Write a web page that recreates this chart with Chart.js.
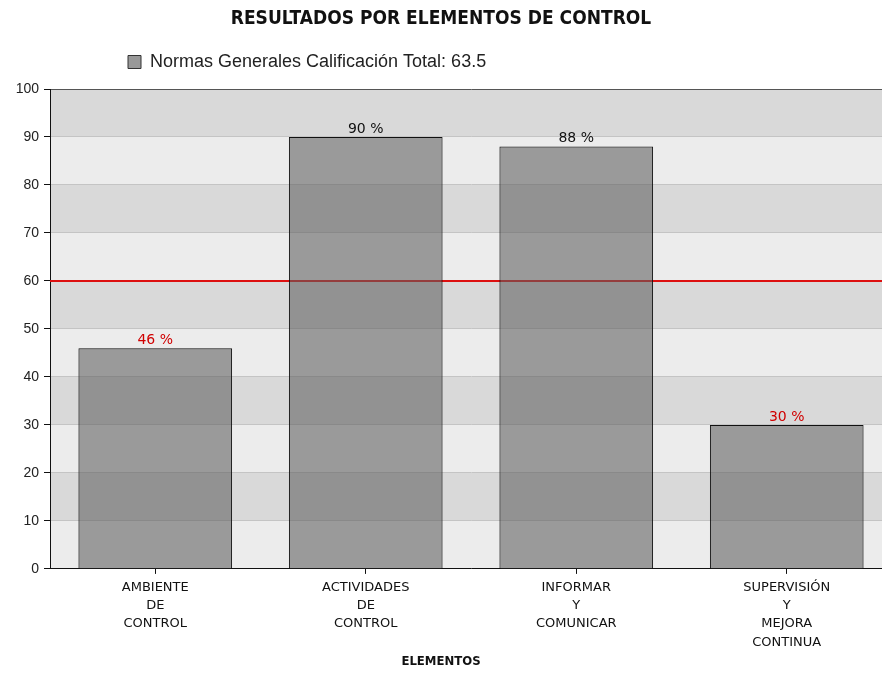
<!DOCTYPE html>
<html>
<head>
<meta charset="utf-8">
<script src="https://cdn.jsdelivr.net/npm/chart.js@4"></script>
<style>
  html, body { margin: 0; padding: 0; background: #fff; overflow: hidden; }
  #wrap { width: 892px; height: 677px; }
</style>
</head>
<body>
<div id="wrap"><canvas id="grafica" width="892" height="677"></canvas></div>
<script>
// datos de la grafica
const categorias = [
  ['AMBIENTE', 'DE', 'CONTROL'],
  ['ACTIVIDADES', 'DE', 'CONTROL'],
  ['INFORMAR', 'Y', 'COMUNICAR'],
  ['SUPERVISIÓN', 'Y', 'MEJORA', 'CONTINUA']
];
const valores = [46, 90, 88, 30];
const valorMeta = 60;
const nombreSerie = 'Normas Generales Calificación Total: 63.5';
const titulo = 'RESULTADOS POR ELEMENTOS DE CONTROL';
const tituloEje = 'ELEMENTOS';

const ANCHO_VISIBLE = 882; // la ventana corta el lado derecho del grafico

const fuenteNarrow = '"DejaVu Sans Condensed", "Liberation Sans", Arial, sans-serif';

const franjas = {
  id: 'franjas',
  // centrar titulos en la parte visible y mover la leyenda a la izquierda
  afterLayout(chart) {
    chart.boxes.forEach(b => {
      if (!b.axis && b !== chart.legend) {
        b.right = ANCHO_VISIBLE;
        b.width = ANCHO_VISIBLE - b.left;
      }
    });
    const lg = chart.legend;
    lg.left = 114;
    lg.top = 39;
  },
  // fondo blanco + franjas alternas
  beforeDraw(chart) {
    const ctx = chart.ctx;
    const a = chart.chartArea;
    const y = chart.scales.y;
    ctx.save();
    ctx.fillStyle = '#fff';
    ctx.fillRect(0, 0, chart.width, chart.height);
    for (let v = 0; v < 100; v += 10) {
      const top = y.getPixelForValue(v + 10);
      const bot = y.getPixelForValue(v);
      ctx.fillStyle = (v / 10) % 2 === 0 ? '#ececec' : '#d9d9d9';
      ctx.fillRect(a.left, top, a.right - a.left, bot - top);
    }
    ctx.restore();
  },
  // linea roja de la meta, debajo de las barras
  beforeDatasetsDraw(chart) {
    const ctx = chart.ctx;
    const a = chart.chartArea;
    const py = Math.round(chart.scales.y.getPixelForValue(valorMeta));
    ctx.save();
    ctx.fillStyle = '#dd1010';
    ctx.fillRect(a.left, py - 1, a.right - a.left, 2);
    ctx.restore();
  },
  // porcentaje encima de cada barra
  afterDatasetsDraw(chart) {
    const ctx = chart.ctx;
    const barras = chart.getDatasetMeta(0).data;
    ctx.save();
    ctx.font = '14px "DejaVu Sans", Verdana, sans-serif';
    ctx.textAlign = 'center';
    ctx.textBaseline = 'bottom';
    barras.forEach((bar, i) => {
      ctx.fillStyle = valores[i] < valorMeta ? '#d00000' : '#111';
      ctx.fillText(valores[i] + ' %', bar.x, bar.y - 1);
    });
    ctx.restore();
  }
};

const ctx = document.getElementById('grafica').getContext('2d');
new Chart(ctx, {
  type: 'bar',
  data: {
    labels: categorias,
    datasets: [{
      label: nombreSerie,
      data: valores,
      backgroundColor: 'rgba(95, 95, 95, 0.58)',
      borderColor: '#111',
      borderWidth: 1,
      categoryPercentage: 0.73,
      barPercentage: 1
    }]
  },
  options: {
    responsive: false,
    animation: false,
    devicePixelRatio: 1,
    layout: { padding: 0 },
    plugins: {
      title: {
        display: true,
        text: titulo,
        color: '#111',
        font: { family: fuenteNarrow, size: 19, weight: 'bold' },
        padding: { top: 8, bottom: 16.2 }
      },
      subtitle: {
        display: true,
        position: 'bottom',
        text: tituloEje,
        color: '#111',
        font: { family: fuenteNarrow, size: 13, weight: 'bold' },
        padding: { top: 1.5, bottom: 8 }
      },
      legend: {
        display: true,
        align: 'start',
        labels: {
          color: '#222',
          font: { family: '"Liberation Sans", Arial, sans-serif', size: 18 },
          boxWidth: 13,
          boxHeight: 13,
          padding: 14,
          generateLabels() {
            return [{
              text: nombreSerie,
              fillStyle: '#999',
              strokeStyle: '#333',
              lineWidth: 1,
              fontColor: '#222',
              datasetIndex: 0
            }];
          }
        }
      },
      tooltip: { enabled: false }
    },
    scales: {
      x: {
        afterFit(s) { s.height = 83; },
        grid: {
          display: true,
          drawOnChartArea: false,
          drawTicks: true,
          tickLength: 5,
          offset: false,
          tickColor: '#111'
        },
        border: { display: true, color: '#111', width: 1 },
        ticks: {
          color: '#111',
          padding: 4,
          maxRotation: 0,
          autoSkip: false,
          font: { family: '"DejaVu Sans", Verdana, sans-serif', size: 13, lineHeight: 1.42 }
        }
      },
      y: {
        min: 0,
        max: 100,
        afterFit(s) { s.width = 50; },
        grid: {
          color: c => (c.tick && c.tick.value === 100 ? '#555' : '#c4c4c4'),
          lineWidth: 1,
          drawTicks: true,
          tickLength: 6,
          tickColor: '#111'
        },
        border: { display: true, color: '#111', width: 1 },
        ticks: {
          stepSize: 10,
          color: '#222',
          padding: 5,
          font: { family: '"Liberation Sans", Arial, sans-serif', size: 14 }
        }
      }
    }
  },
  plugins: [franjas]
});
</script>
</body>
</html>
